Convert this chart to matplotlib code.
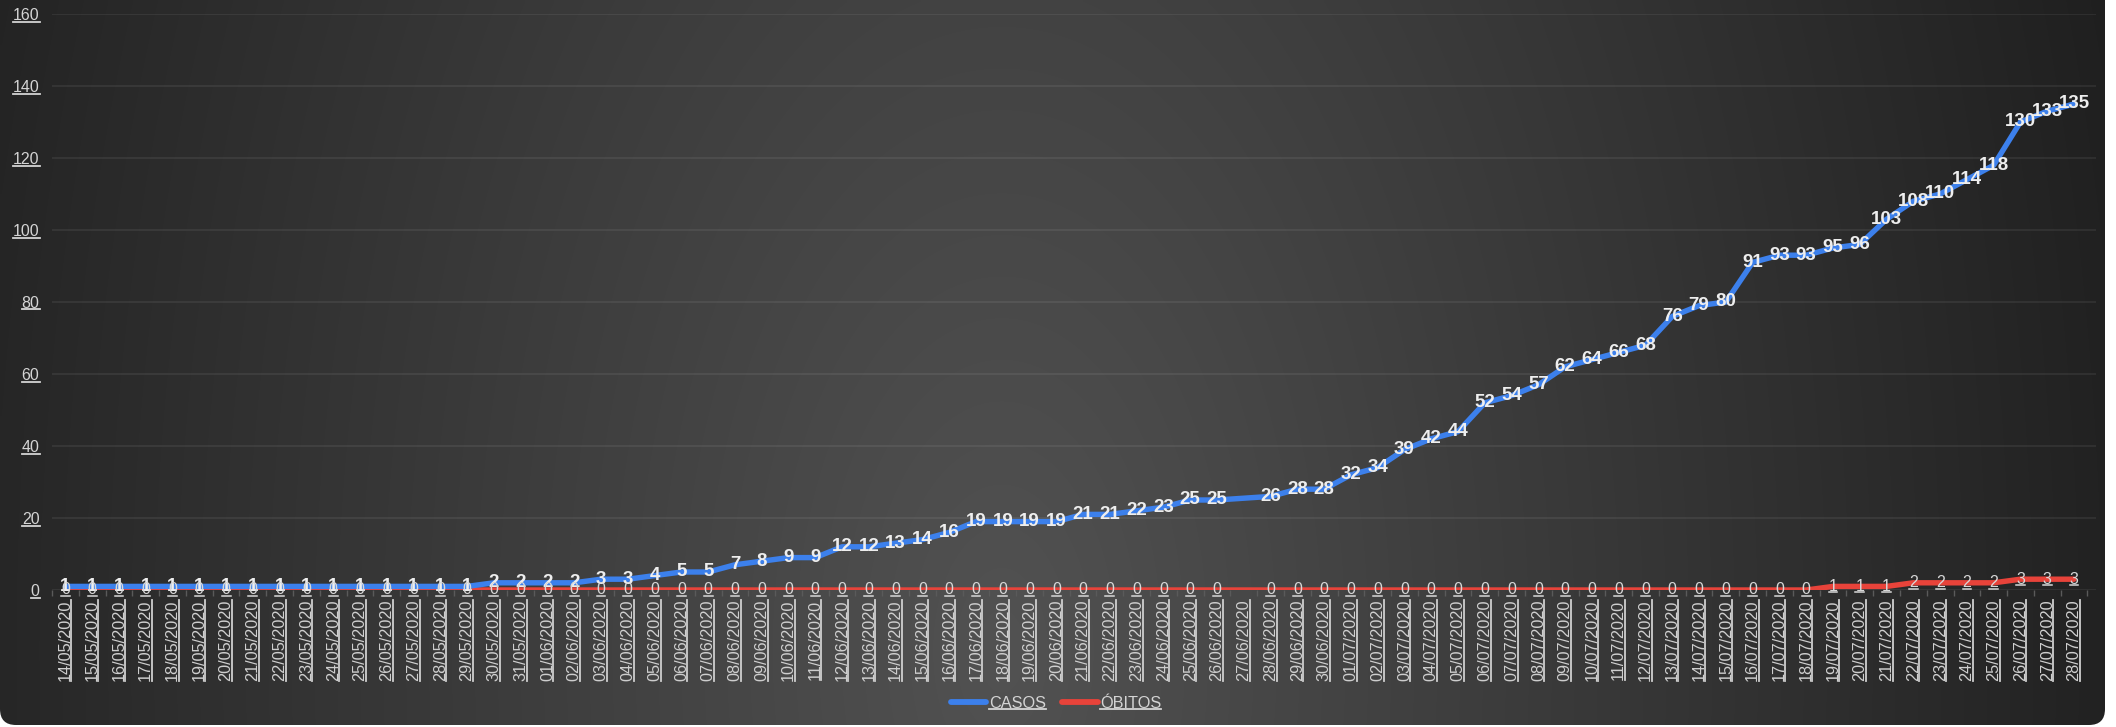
import numpy as np
import matplotlib
matplotlib.use("Agg")
import matplotlib.pyplot as plt
from matplotlib import font_manager
from matplotlib.patches import FancyBboxPatch
from matplotlib.lines import Line2D
import datetime as dt

# ---------------- data ----------------
start = dt.date(2020, 5, 14)
dates = [(start + dt.timedelta(days=i)).strftime("%d/%m/%Y") for i in range(76)]

casos = [1, 1, 1, 1, 1, 1, 1, 1, 1, 1, 1, 1, 1, 1, 1, 1,          # 14/05-29/05
         2, 2, 2, 2, 3, 3, 4, 5, 5, 7, 8, 9, 9,                   # 30/05-11/06
         12, 12, 13, 14, 16, 19, 19, 19, 19, 21, 21, 22, 23, 25, 25,  # 12/06-26/06
         None,                                                    # 27/06
         26, 28, 28,                                              # 28/06-30/06
         32, 34, 39, 42, 44, 52, 54, 57, 62, 64, 66, 68, 76, 79, 80,  # 01/07-15/07
         91, 93, 93, 95, 96, 103, 108, 110, 114, 118, 130, 133, 135]  # 16/07-28/07

obitos = [0] * 44 + [None] + [0] * 21 + [1, 1, 1, 2, 2, 2, 2, 3, 3, 3]

series_names = ["CASOS", "ÓBITOS"]
yticks = [0, 20, 40, 60, 80, 100, 120, 140, 160]

# ---------------- fonts ----------------
names = {f.name for f in font_manager.fontManager.ttflist}
base_font = "Liberation Sans" if "Liberation Sans" in names else "DejaVu Sans"
narrow_font = "Liberation Sans Narrow" if "Liberation Sans Narrow" in names else base_font
plt.rcParams["font.family"] = [base_font, "DejaVu Sans"]

W, H = 2116, 727
fig = plt.figure(figsize=(W / 100, H / 100), dpi=100)
fig.patch.set_facecolor("white")

# ---------------- background (rounded, gradient) ----------------
bg = fig.add_axes([0, 0, 1, 1], zorder=-10)
bg.set_xlim(0, W)
bg.set_ylim(H, 0)
bg.axis("off")
xx, yy = np.meshgrid(np.arange(0, W, 4), np.arange(0, H, 4))
d = np.sqrt(((xx - 1000) / 1100.0) ** 2 + ((yy - 650) / 2000.0) ** 2)
d = np.clip(d, 0, 1.05)
val = (82 - 48 * d) / 255.0
img = np.dstack([val, val, val])
im = bg.imshow(img, extent=(0, W, H, 0), interpolation="bilinear", aspect="auto")
box = FancyBboxPatch((0, -40), 2105, 40 + 725, boxstyle="round,pad=0,rounding_size=16",
                     transform=bg.transData, facecolor="none", edgecolor="none")
bg.add_patch(box)
im.set_clip_path(box)

# ---------------- main axes ----------------
left, right, top, bottom = 52, 2096, 14, 590
ax = fig.add_axes([left / W, 1 - bottom / H, (right - left) / W, (bottom - top) / H])
ax.set_facecolor("none")
for s in ax.spines.values():
    s.set_visible(False)

x = np.arange(len(dates))
blue = "#3c80ec"
red = "#e8433a"

c_arr = np.array([np.nan if v is None else v for v in casos], dtype=float)
o_arr = np.array([np.nan if v is None else v for v in obitos], dtype=float)
mc = ~np.isnan(c_arr)
mo = ~np.isnan(o_arr)

ax.plot(x[mo], o_arr[mo], color=red, lw=3.9, solid_capstyle="round", zorder=3, label=series_names[1])
ax.plot(x[mc], c_arr[mc], color=blue, lw=3.9, solid_capstyle="round", zorder=3, label=series_names[0])

ax.set_xlim(-0.45, len(dates) - 0.18)
ax.set_ylim(0, 160)
ax.set_yticks(yticks)
ax.set_yticklabels([str(t) for t in yticks])
ax.grid(axis="y", color="#ffffff", alpha=0.08, lw=1.2)
ax.set_axisbelow(True)
ax.tick_params(axis="y", length=0, pad=9, labelsize=11.5, labelcolor="#d4d4d4")
ax.set_xticks(x)
ax.set_xticklabels(dates, rotation=90)
ax.tick_params(axis="x", length=0, pad=7, labelsize=11.7, labelcolor="#cfcfcf")
ax.set_xticks(np.arange(len(dates) + 1) - 0.5, minor=True)
ax.tick_params(axis="x", which="minor", length=4, color="#5a5a5a", width=1)

# data labels
for i, v in enumerate(casos):
    if v is None:
        continue
    ax.text(i, v, str(v), ha="center", va="center", fontsize=13.5, fontweight="bold",
            family=[narrow_font, base_font], color="#eeeeee", zorder=5)
ob_texts = []
for i, v in enumerate(obitos):
    if v is None:
        continue
    t = ax.text(i, v, str(v), ha="center", va="center", fontsize=11.5,
                color="#d8d8d8", zorder=6)
    ob_texts.append(t)

# legend
handles = [Line2D([], [], color=blue, lw=4.2, solid_capstyle="round"),
           Line2D([], [], color=red, lw=4.2, solid_capstyle="round")]
leg = fig.legend(handles, series_names, loc="center", bbox_to_anchor=(1056 / W, 1 - 703 / H),
                 ncol=2, frameon=False, fontsize=11.7, handlelength=2.2, handletextpad=0.15,
                 columnspacing=1.0, labelcolor="#d4d4d4")

# ---------------- underlines ----------------
fig.canvas.draw()
renderer = fig.canvas.get_renderer()
inv = fig.transFigure.inverted()


def hline(bb, color, lw=1.3):
    y0 = bb.y0 + 1.5
    p0 = inv.transform((bb.x0, y0))
    p1 = inv.transform((bb.x1, y0))
    fig.add_artist(Line2D([p0[0], p1[0]], [p0[1], p1[1]], color=color, lw=lw, transform=fig.transFigure))


def vline(bb, color, lw=1.3):
    x0 = bb.x1 - 1.5
    p0 = inv.transform((x0, bb.y0))
    p1 = inv.transform((x0, bb.y1))
    fig.add_artist(Line2D([p0[0], p1[0]], [p0[1], p1[1]], color=color, lw=lw, transform=fig.transFigure))


for t in ax.get_yticklabels():
    hline(t.get_window_extent(renderer), "#d4d4d4")
for t in ax.get_xticklabels():
    vline(t.get_window_extent(renderer), "#cfcfcf")
for t in ob_texts:
    hline(t.get_window_extent(renderer), "#d8d8d8", lw=1.1)
for t in leg.get_texts():
    hline(t.get_window_extent(renderer), "#d4d4d4")

fig.savefig("out.png", dpi=100, facecolor="white")
